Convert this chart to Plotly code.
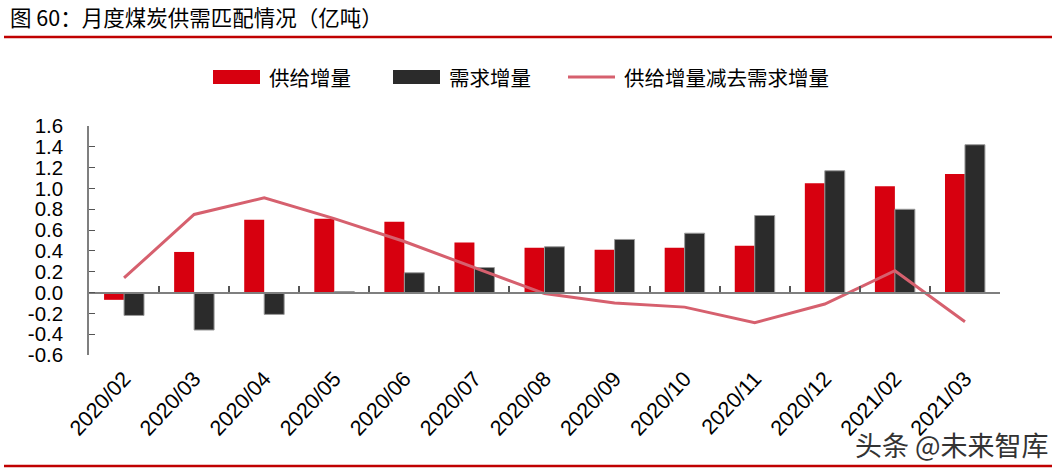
import plotly.graph_objects as go

categories = ["2020/02", "2020/03", "2020/04", "2020/05", "2020/06", "2020/07", "2020/08",
              "2020/09", "2020/10", "2020/11", "2020/12", "2021/02", "2021/03"]
supply = [-0.07, 0.39, 0.70, 0.71, 0.68, 0.48, 0.43, 0.41, 0.43, 0.45, 1.05, 1.02, 1.14]
demand = [-0.22, -0.36, -0.21, 0.01, 0.19, 0.24, 0.44, 0.51, 0.57, 0.74, 1.17, 0.80, 1.42]
diff = [0.14, 0.75, 0.91, 0.71, 0.49, 0.24, -0.01, -0.10, -0.14, -0.29, -0.11, 0.21, -0.28]
y_ticks = [-0.6, -0.4, -0.2, 0.0, 0.2, 0.4, 0.6, 0.8, 1.0, 1.2, 1.4, 1.6]

RED = "#D7000F"
BLACK = "#2B2B2B"
LINE = "#D6606E"
W, H = 1057, 473
L, R, T, B = 89, 57, 126, 118

fig = go.Figure()
fig.add_trace(go.Bar(x=categories, y=supply, name="供给增量", marker=dict(color=RED, line=dict(width=0)),
                     showlegend=False))
fig.add_trace(go.Bar(x=categories, y=demand, name="需求增量",
                     marker=dict(color=BLACK, line=dict(width=1, color="#9a9a9a")), showlegend=False))
fig.add_trace(go.Scatter(x=categories, y=diff, name="供给增量减去需求增量", mode="lines",
                         line=dict(color=LINE, width=3), xaxis="x2", showlegend=False))

ymin, ymax = -0.6, 1.6
zero_pos = (0 - ymin) / (ymax - ymin)

fig.update_layout(
    width=W, height=H,
    margin=dict(l=L, r=R, t=T, b=B),
    paper_bgcolor="white", plot_bgcolor="white",
    barmode="group", bargap=0.43, bargroupgap=0,
    font=dict(family="Liberation Sans, Arial, sans-serif", color="black"),
    xaxis=dict(type="category", range=[-0.5, 12.5], showline=False, ticks="",
               tickangle=-47, tickfont=dict(size=21.5, family="Liberation Sans, Arial"),
               showgrid=False, zeroline=False, ticklabelstandoff=6),
    xaxis2=dict(type="category", range=[-0.5, 12.5], overlaying="x", anchor="free",
                position=zero_pos, showticklabels=False, showline=True, linecolor="#7f7f7f",
                linewidth=2, ticks="inside", ticklen=6, tickwidth=1.5, tickcolor="#555",
                tickson="boundaries", showgrid=False, zeroline=False, categoryarray=categories,
                categoryorder="array"),
    yaxis=dict(range=[ymin, ymax], tickvals=y_ticks, ticktext=[f"{v:.1f}" for v in y_ticks],
               showline=True, linecolor="#7f7f7f", linewidth=1.5, ticks="inside", ticklen=6,
               tickcolor="#555", showgrid=False, zeroline=False,
               tickfont=dict(size=20.5, family="Liberation Sans, Arial"), ticklabelstandoff=20),
)

cjk = "Noto Sans CJK SC"


def px_x(x):
    return (x - L) / (W - L - R)


def px_y(y):
    return 1 - (y - T) / (H - T - B)


# title and separators
fig.add_annotation(text="图 60：月度煤炭供需匹配情况（亿吨）", xref="paper", yref="paper",
                   x=px_x(8), y=px_y(16), xanchor="left", yanchor="middle", showarrow=False,
                   font=dict(family=cjk, size=21.5, color="black"))
fig.add_shape(type="line", xref="paper", yref="paper", x0=px_x(4), x1=px_x(1052), y0=px_y(37), y1=px_y(37),
              line=dict(color="#C00000", width=2.5))
fig.add_shape(type="line", xref="paper", yref="paper", x0=px_x(4), x1=px_x(1052), y0=px_y(466), y1=px_y(466),
              line=dict(color="#C00000", width=2.5))

# custom legend
leg_y = 77
items = [("rect", RED, 213, "供给增量"), ("rect", BLACK, 393, "需求增量"), ("line", LINE, 568, "供给增量减去需求增量")]
for kind, col, x0, label in items:
    if kind == "rect":
        fig.add_shape(type="rect", xref="paper", yref="paper", x0=px_x(x0), x1=px_x(x0 + 47),
                      y0=px_y(leg_y + 7), y1=px_y(leg_y - 7), fillcolor=col, line=dict(width=0))
    else:
        fig.add_shape(type="line", xref="paper", yref="paper", x0=px_x(x0), x1=px_x(x0 + 47),
                      y0=px_y(leg_y), y1=px_y(leg_y), line=dict(color=col, width=3))
    fig.add_annotation(text=label, xref="paper", yref="paper", x=px_x(x0 + 54), y=px_y(leg_y),
                       xanchor="left", yanchor="middle", showarrow=False,
                       font=dict(family=cjk, size=20.5, color="black"))

fig.add_annotation(text="头条 @未来智库", xref="paper", yref="paper", x=px_x(1051), y=px_y(444),
                   xanchor="right", yanchor="middle", showarrow=False,
                   font=dict(family=cjk, size=27, color="#333333"))

fig.write_html("out.html")
